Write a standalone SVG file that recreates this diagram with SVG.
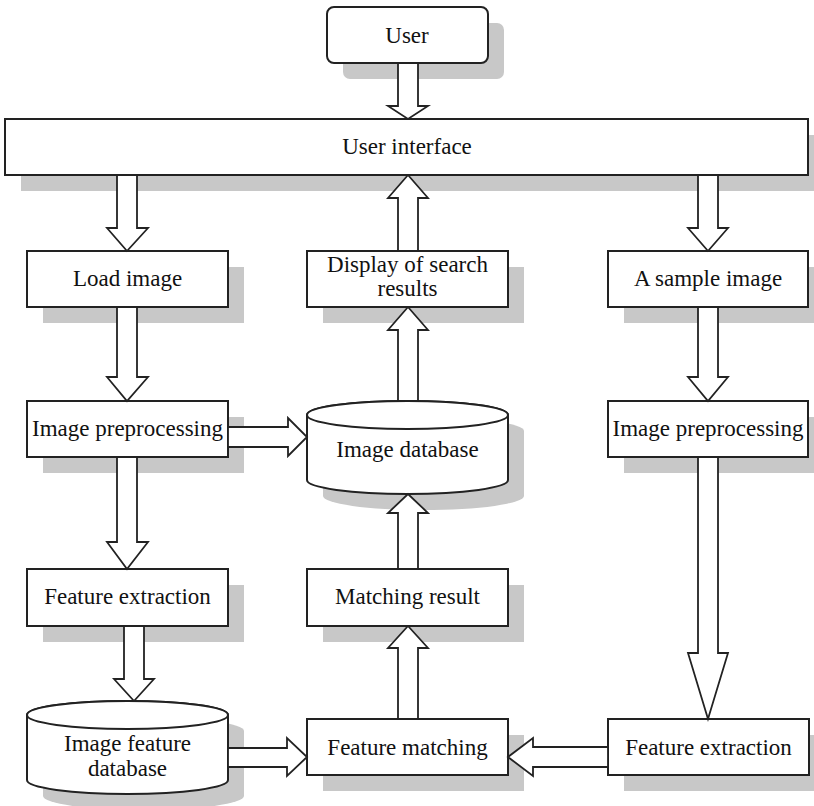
<svg xmlns="http://www.w3.org/2000/svg" width="814" height="806" viewBox="0 0 814 806">
<style>
.sh{fill:#c8c8c8;stroke:none}
.bx{fill:#fff;stroke:#222;stroke-width:2}
.ar{fill:#fff;stroke:#222;stroke-width:1.8;stroke-linejoin:miter}
.t{font-family:"Liberation Serif","Times New Roman",serif;font-size:23px;fill:#111;text-anchor:middle}
</style>
<rect x="0" y="0" width="814" height="806" fill="#fff"/>
<g id="user">
<rect class="sh" x="343" y="23" width="161" height="56" rx="7"/>
<rect class="bx" x="327" y="7" width="161" height="56" rx="7"/>
<text class="t" x="407" y="43">User</text>
</g>
<g id="user-interface">
<rect class="sh" x="21" y="135" width="800" height="56"/>
<rect class="bx" x="5" y="119" width="803" height="56"/>
<text class="t" x="407" y="154">User interface</text>
</g>
<g id="load-image">
<rect class="sh" x="43" y="267" width="201" height="56"/>
<rect class="bx" x="27" y="251" width="201" height="56"/>
<text class="t" x="127.5" y="286">Load image</text>
</g>
<g id="display-results">
<rect class="sh" x="323" y="267" width="201" height="56"/>
<rect class="bx" x="307" y="251" width="201" height="56"/>
<text class="t" x="407.5" y="272">Display of search</text>
<text class="t" x="407.5" y="296">results</text>
</g>
<g id="sample-image">
<rect class="sh" x="624" y="267" width="201" height="56"/>
<rect class="bx" x="608" y="251" width="200" height="56"/>
<text class="t" x="708" y="286">A sample image</text>
</g>
<g id="preprocess-left">
<rect class="sh" x="43" y="417" width="201" height="56"/>
<rect class="bx" x="27" y="401" width="201" height="56"/>
<text class="t" x="127.5" y="436">Image preprocessing</text>
</g>
<g id="image-database">
<path class="sh" d="M323,431 V496 A100.5,14 0 0 0 524,496 V431 A100.5,14 0 0 0 323,431 Z"/>
<path class="bx" d="M307,415 V480 A100.5,14 0 0 0 508,480 V415 A100.5,14 0 0 0 307,415 Z"/>
<ellipse class="bx" cx="407.5" cy="415" rx="100.5" ry="14"/>
<text class="t" x="407.5" y="457">Image database</text>
</g>
<g id="preprocess-right">
<rect class="sh" x="624" y="417" width="201" height="56"/>
<rect class="bx" x="608" y="401" width="200" height="56"/>
<text class="t" x="708" y="436">Image preprocessing</text>
</g>
<g id="feature-extraction-left">
<rect class="sh" x="43" y="585" width="201" height="57"/>
<rect class="bx" x="27" y="569" width="201" height="57"/>
<text class="t" x="127.5" y="604">Feature extraction</text>
</g>
<g id="matching-result">
<rect class="sh" x="323" y="585" width="201" height="57"/>
<rect class="bx" x="307" y="569" width="201" height="57"/>
<text class="t" x="407.5" y="604">Matching result</text>
</g>
<g id="feature-database">
<path class="sh" d="M43,731 V796 A100.5,14 0 0 0 244,796 V731 A100.5,14 0 0 0 43,731 Z"/>
<path class="bx" d="M27,715 V780 A100.5,14 0 0 0 228,780 V715 A100.5,14 0 0 0 27,715 Z"/>
<ellipse class="bx" cx="127.5" cy="715" rx="100.5" ry="14"/>
<text class="t" x="127.5" y="751">Image feature</text>
<text class="t" x="127.5" y="776">database</text>
</g>
<g id="feature-matching">
<rect class="sh" x="323" y="735" width="201" height="56"/>
<rect class="bx" x="307" y="719" width="201" height="56"/>
<text class="t" x="407.5" y="755">Feature matching</text>
</g>
<g id="feature-extraction-right">
<rect class="sh" x="624" y="735" width="201" height="56"/>
<rect class="bx" x="608" y="719" width="201" height="56"/>
<text class="t" x="708.5" y="755">Feature extraction</text>
</g>
<g id="connectors">
<polygon class="ar" points="398,63 418,63 418,106 428,106 408,119 388,106 398,106"/>
<polygon class="ar" points="117,175 137,175 137,228 148,228 127,251 107,228 117,228"/>
<polygon class="ar" points="698,175 718,175 718,228 728,228 708,251 688,228 698,228"/>
<polygon class="ar" points="398,251 418,251 418,198 428,198 408,175 388,198 398,198"/>
<polygon class="ar" points="117,307 137,307 137,377 148,377 127,401 107,377 117,377"/>
<polygon class="ar" points="698,307 718,307 718,377 728,377 708,401 688,377 698,377"/>
<polygon class="ar" points="228,427 288,427 288,418 307,437 288,456 288,447 228,447"/>
<polygon class="ar" points="398,401 418,401 418,330 428,330 408,307 388,330 398,330"/>
<polygon class="ar" points="117,457 137,457 137,542 148,542 127,569 107,542 117,542"/>
<polygon class="ar" points="698,457 718,457 718,653 728,653 708,719 688,653 698,653"/>
<polygon class="ar" points="124,626 144,626 144,679 154,679 134,701 114,679 124,679"/>
<polygon class="ar" points="228,748 287,748 287,738 307,757 287,776 287,767 228,767"/>
<polygon class="ar" points="608,747 533,747 533,738 508,757 533,776 533,767 608,767"/>
<polygon class="ar" points="398,719 418,719 418,648 428,648 408,626 388,648 398,648"/>
<polygon class="ar" points="398,569 418,569 418,513 428,513 408,494 388,513 398,513"/>
</g>
</svg>
